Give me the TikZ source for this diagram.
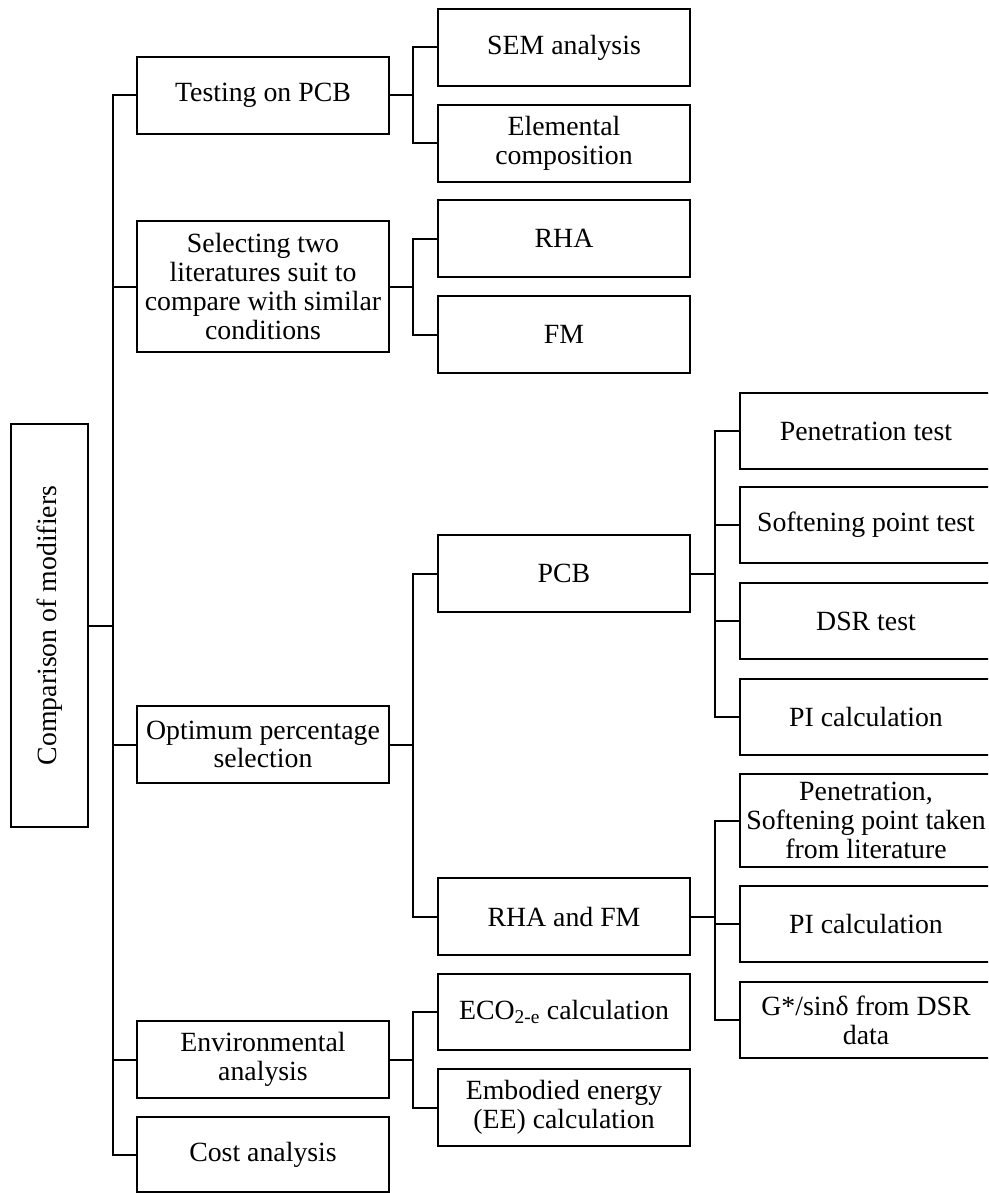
\documentclass[tikz,border=0pt]{standalone}
\usepackage{fontspec}
\setmainfont{Liberation Serif}
\begin{document}
\begin{tikzpicture}[x=1pt,y=-1pt,
  box/.style={draw,line width=2pt,inner sep=0pt,align=center,minimum width=252pt,minimum height=77pt,
    font=\fontsize{27.8}{28.7}\selectfont},
  conn/.style={line width=2pt,line cap=rect}]
\useasboundingbox (0,0) rectangle (988,1193);
\clip (0,0) rectangle (988,1193);
\fill[white] (0,0) rectangle (988,1193);
% root
\node[box,minimum width=403pt,rotate=90] (main) at (49.5,625.5) {Comparison of modifiers};
% level 1
\node[box] (test) at (263,95.5) {Testing on PCB};
\node[box,minimum height=131pt] (sel) at (263,286.5) {Selecting two\\literatures suit to\\compare with similar\\conditions};
\node[box] (opt) at (263,744.5) {Optimum percentage\\selection};
\node[box] (env) at (263,1059.5) {Environmental\\analysis};
\node[box,minimum height=75pt] (cost) at (263,1154.5) {Cost analysis};
% level 2
\node[box] (sem) at (564,47.5) {SEM analysis};
\node[box] (elem) at (564,143.5) {Elemental\\composition};
\node[box] (rha) at (564,238.5) {RHA};
\node[box] (fm) at (564,334.5) {FM};
\node[box] (pcb) at (564,573.5) {PCB};
\node[box] (rhafm) at (564,916.5) {RHA and FM};
\node[box,minimum height=76pt] (eco) at (564,1012) {ECO\textsubscript{2-e} calculation};
\node[box] (emb) at (564,1107.5) {Embodied energy\\(EE) calculation};
% level 3
\node[box,minimum height=76pt] (pen) at (866,431) {Penetration test};
\node[box,minimum height=76pt] (soft) at (866,525) {Softening point test};
\node[box,minimum height=76pt] (dsr) at (866,621) {DSR test};
\node[box,minimum height=76pt] (pia) at (866,717) {PI calculation};
\node[box,minimum height=93pt] (pensoft) at (866,820.5) {Penetration,\\Softening point taken\\from literature};
\node[box,minimum height=76pt] (pib) at (866,924) {PI calculation};
\node[box,minimum height=76pt] (gsin) at (866,1020) {G*/sinδ from DSR\\data};
% junction x positions
\coordinate (tr) at (113,0);
\coordinate (ja) at (413,0);
\coordinate (jb) at (715,0);
% trunk
\draw[conn] (main.south) -- (main.south -| tr);
\draw[conn] (test.west) -- (test.west -| tr) -- (cost.west -| tr) -- (cost.west);
\draw[conn] (sel.west) -- (sel.west -| tr);
\draw[conn] (opt.west) -- (opt.west -| tr);
\draw[conn] (env.west) -- (env.west -| tr);
% testing on PCB
\draw[conn] (test.east) -- (test.east -| ja);
\draw[conn] (sem.west) -- (sem.west -| ja) -- (elem.west -| ja) -- (elem.west);
% selecting
\draw[conn] (sel.east) -- (sel.east -| ja);
\draw[conn] (rha.west) -- (rha.west -| ja) -- (fm.west -| ja) -- (fm.west);
% optimum
\draw[conn] (opt.east) -- (opt.east -| ja);
\draw[conn] (pcb.west) -- (pcb.west -| ja) -- (rhafm.west -| ja) -- (rhafm.west);
% environmental
\draw[conn] (env.east) -- (env.east -| ja);
\draw[conn] (eco.west) -- (eco.west -| ja) -- (emb.west -| ja) -- (emb.west);
% PCB
\draw[conn] (pcb.east) -- (pcb.east -| jb);
\draw[conn] (pen.west) -- (pen.west -| jb) -- (pia.west -| jb) -- (pia.west);
\draw[conn] (soft.west) -- (soft.west -| jb);
\draw[conn] (dsr.west) -- (dsr.west -| jb);
% RHA and FM
\draw[conn] (rhafm.east) -- (rhafm.east -| jb);
\draw[conn] (pensoft.west) -- (pensoft.west -| jb) -- (gsin.west -| jb) -- (gsin.west);
\draw[conn] (pib.west) -- (pib.west -| jb);
\end{tikzpicture}
\end{document}
